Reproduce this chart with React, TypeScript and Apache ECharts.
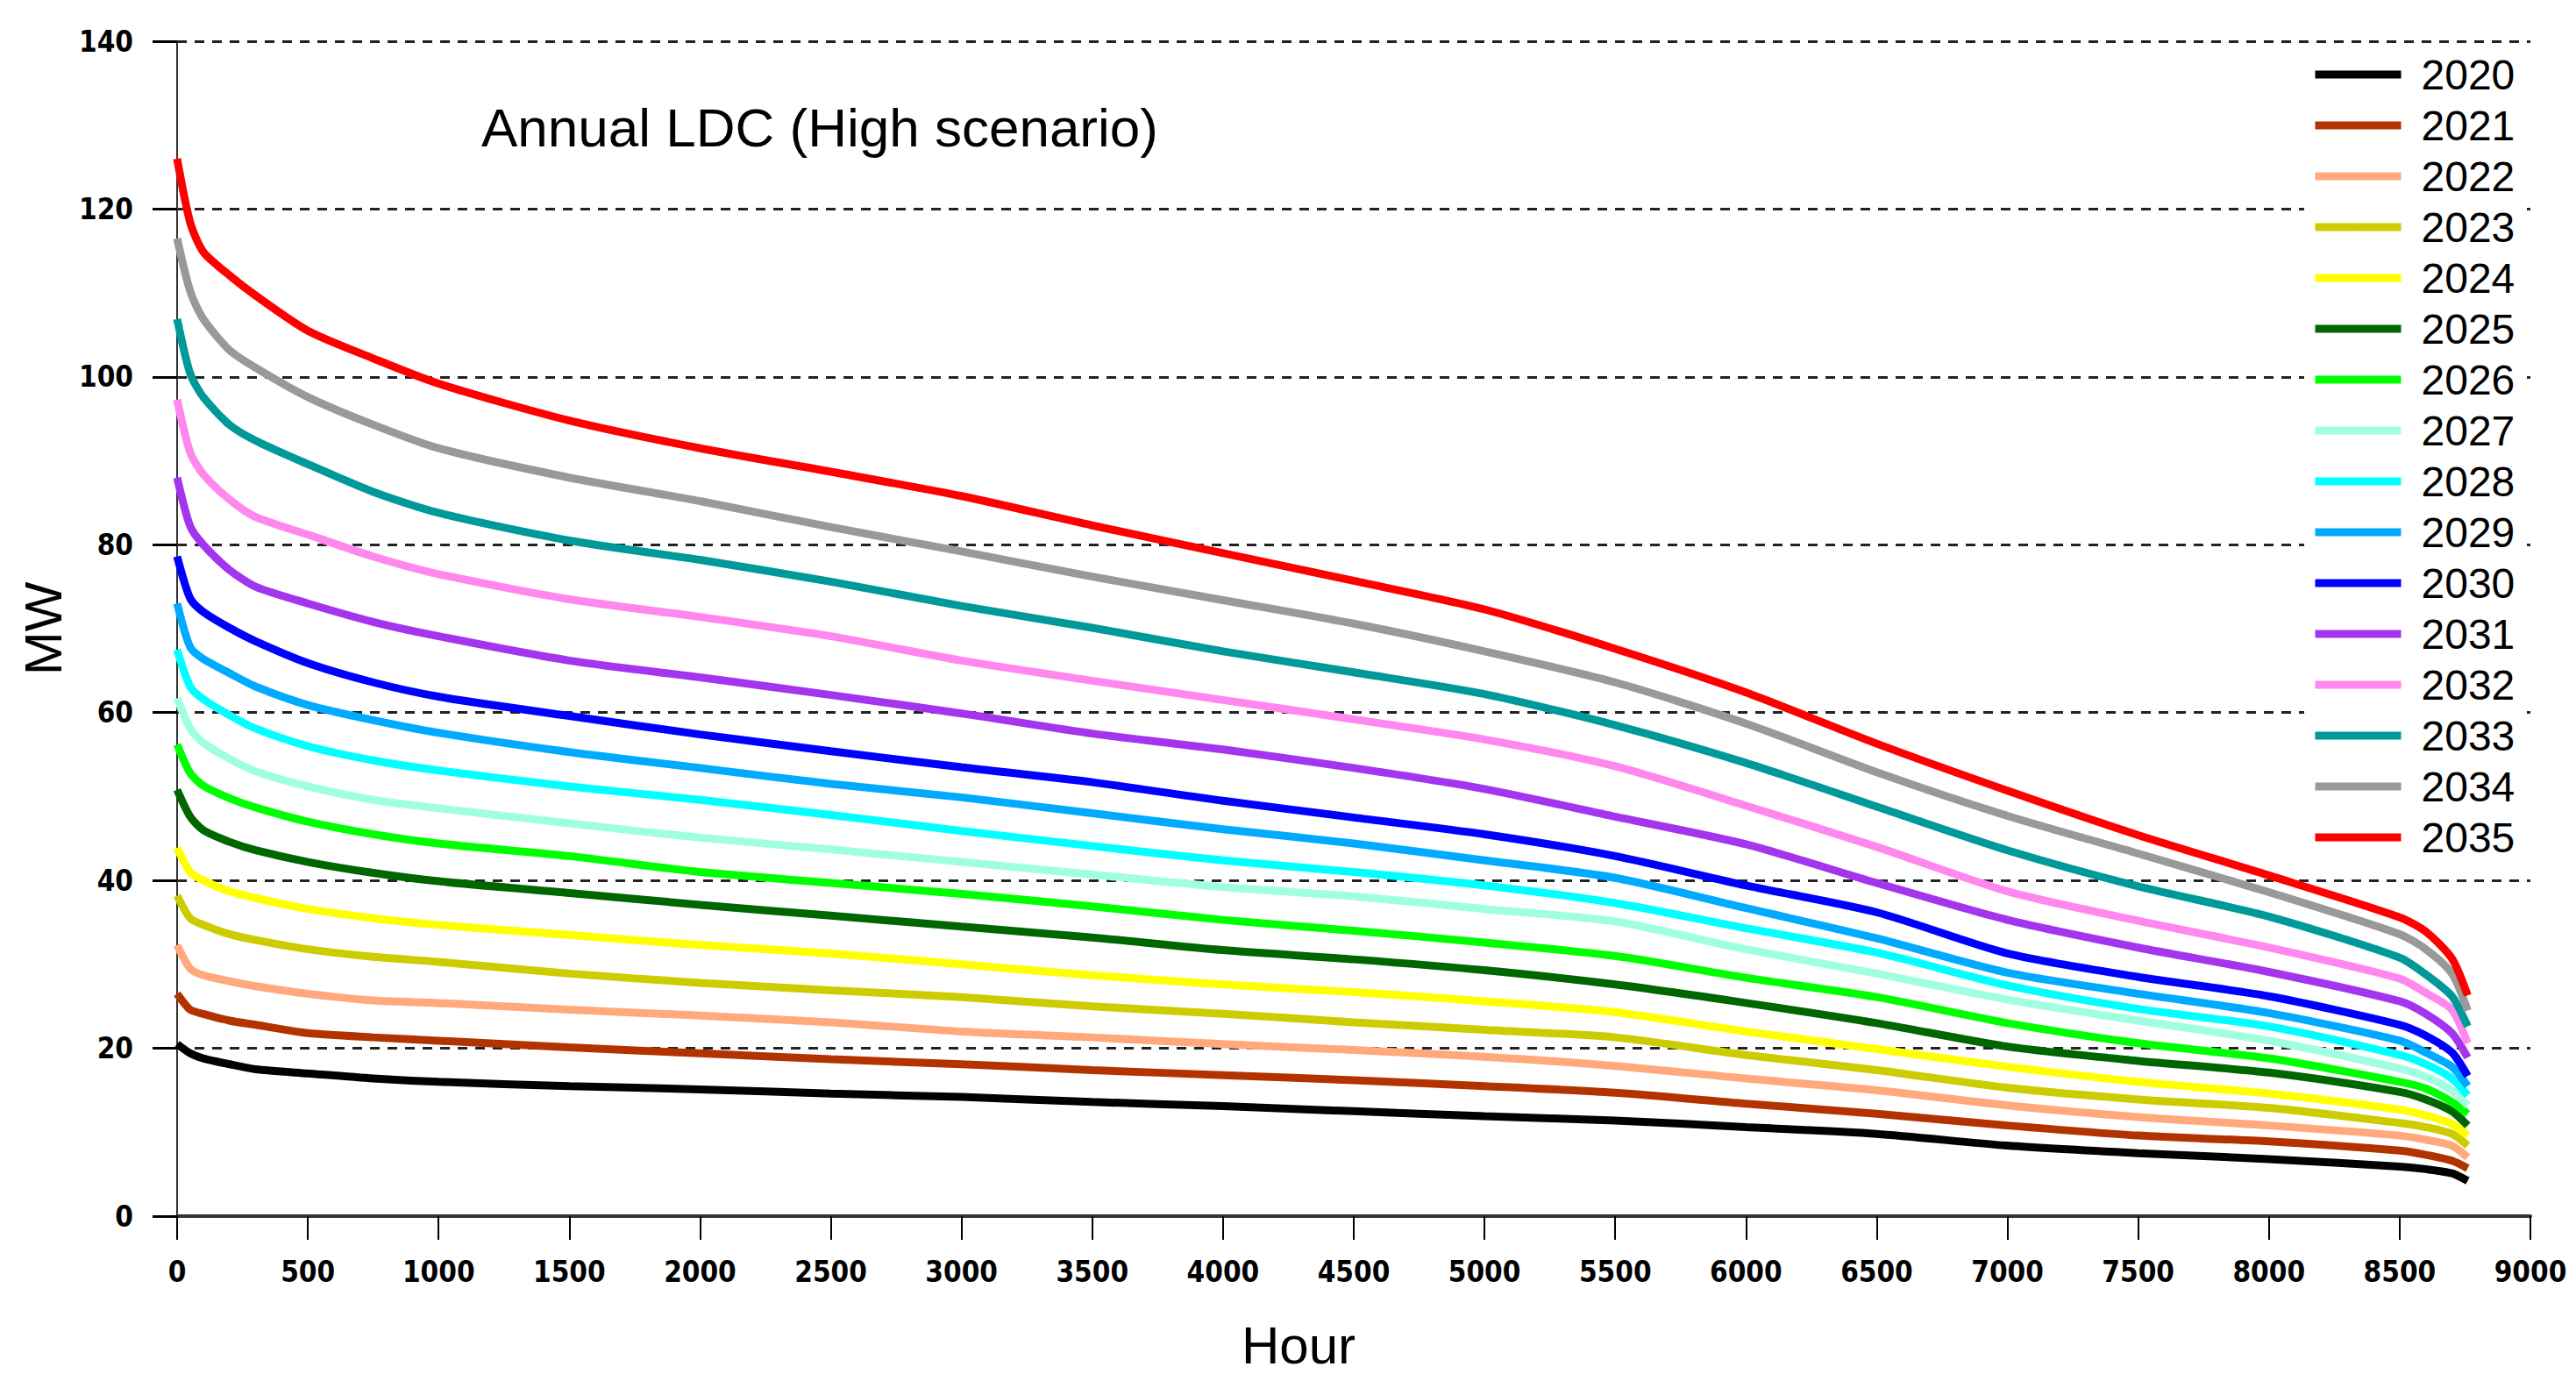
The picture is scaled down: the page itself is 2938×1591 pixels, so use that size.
import React, { useEffect, useRef } from 'react';
import * as echarts from 'echarts';

// hours of the year at which each load duration curve was read
const hours = [0, 50, 100, 200, 300, 500, 750, 1000, 1500, 2000, 2500, 3000, 3500, 4000, 4500, 5000, 5500, 6000, 6500, 7000, 7500, 8000, 8500, 8600, 8700, 8760];

const years = ['2020', '2021', '2022', '2023', '2024', '2025', '2026', '2027', '2028', '2029', '2030', '2031', '2032', '2033', '2034', '2035'];

const ldc2020 = [20.5, 19.4, 18.8, 18.1, 17.5, 17.0, 16.4, 16.0, 15.5, 15.1, 14.6, 14.2, 13.6, 13.1, 12.5, 11.9, 11.4, 10.6, 9.8, 8.4, 7.5, 6.8, 5.9, 5.6, 5.1, 4.2];
const ldc2021 = [26.5, 24.6, 24.1, 23.3, 22.8, 21.8, 21.3, 20.9, 20.1, 19.4, 18.7, 18.1, 17.4, 16.8, 16.2, 15.5, 14.7, 13.4, 12.2, 10.8, 9.6, 8.9, 7.8, 7.3, 6.6, 5.7];
const ldc2022 = [32.3, 29.5, 28.7, 28.0, 27.4, 26.5, 25.7, 25.4, 24.6, 23.9, 23.1, 22.0, 21.3, 20.5, 19.8, 19.0, 17.9, 16.4, 15.0, 13.2, 11.8, 10.8, 9.6, 9.1, 8.4, 7.0];
const ldc2023 = [38.2, 35.5, 34.7, 33.6, 32.9, 31.8, 30.9, 30.3, 28.9, 27.8, 26.9, 26.1, 25.0, 24.1, 23.1, 22.2, 21.3, 19.2, 17.4, 15.3, 13.9, 12.9, 11.1, 10.6, 9.8, 8.4];
const ldc2024 = [43.9, 41.0, 40.0, 38.7, 37.9, 36.6, 35.5, 34.7, 33.5, 32.3, 31.3, 30.0, 28.7, 27.6, 26.7, 25.6, 24.3, 22.0, 19.9, 17.8, 16.0, 14.6, 12.7, 12.0, 11.0, 9.6];
const ldc2025 = [50.8, 47.6, 46.0, 44.6, 43.6, 42.2, 40.9, 39.9, 38.5, 37.1, 35.8, 34.5, 33.2, 31.7, 30.6, 29.3, 27.6, 25.4, 23.0, 20.2, 18.5, 17.1, 14.8, 13.9, 12.5, 10.8];
const ldc2026 = [56.2, 52.8, 51.3, 49.8, 48.7, 47.0, 45.5, 44.4, 42.9, 41.0, 39.7, 38.4, 36.9, 35.3, 34.0, 32.6, 31.0, 28.4, 26.1, 23.0, 20.6, 18.8, 16.0, 15.2, 13.6, 12.2];
const ldc2027 = [61.7, 58.1, 56.4, 54.5, 53.0, 51.2, 49.6, 48.6, 46.8, 45.1, 43.7, 42.2, 40.7, 39.2, 38.1, 36.6, 35.1, 31.8, 28.9, 25.8, 23.3, 20.9, 17.6, 16.6, 15.0, 13.2];
const ldc2028 = [67.5, 63.1, 61.6, 59.7, 58.1, 56.0, 54.3, 53.1, 51.2, 49.6, 47.8, 45.9, 44.1, 42.4, 41.0, 39.4, 37.3, 34.3, 31.4, 27.5, 24.7, 22.6, 19.2, 18.1, 16.4, 14.4];
const ldc2029 = [73.0, 67.8, 66.4, 64.7, 63.1, 60.9, 59.1, 57.6, 55.3, 53.4, 51.5, 49.9, 48.0, 46.1, 44.4, 42.4, 40.3, 36.7, 33.1, 29.0, 26.5, 24.2, 20.9, 19.5, 17.8, 15.5];
const ldc2030 = [78.6, 73.6, 72.0, 70.1, 68.5, 65.9, 63.6, 61.9, 59.6, 57.4, 55.4, 53.5, 51.7, 49.5, 47.5, 45.5, 42.9, 39.4, 36.2, 31.3, 28.5, 26.2, 22.8, 21.5, 19.5, 16.7];
const ldc2031 = [88.0, 82.2, 80.0, 77.0, 75.0, 73.0, 70.8, 69.1, 66.2, 64.2, 62.1, 59.9, 57.5, 55.6, 53.4, 50.9, 47.6, 44.3, 39.7, 35.3, 32.0, 29.1, 25.6, 24.1, 21.8, 18.9];
const ldc2032 = [97.3, 91.0, 88.4, 85.4, 83.3, 81.2, 78.6, 76.5, 73.5, 71.4, 69.1, 66.2, 63.8, 61.5, 59.2, 56.8, 53.6, 48.9, 44.0, 38.7, 35.2, 32.0, 28.3, 26.6, 24.6, 20.6];
const ldc2033 = [106.9, 100.4, 97.6, 94.3, 92.4, 89.6, 86.3, 83.8, 80.5, 78.2, 75.6, 72.7, 70.1, 67.3, 64.8, 62.2, 58.5, 54.0, 48.8, 43.6, 39.3, 35.7, 30.8, 28.8, 26.2, 22.6];
const ldc2034 = [116.5, 110.2, 106.9, 103.2, 101.1, 97.6, 94.3, 91.5, 88.0, 85.2, 82.1, 79.2, 76.2, 73.4, 70.6, 67.3, 63.6, 58.7, 52.9, 47.7, 43.2, 38.6, 33.6, 31.8, 28.9, 24.5];
const ldc2035 = [126.0, 118.4, 114.9, 112.1, 109.7, 105.5, 102.2, 99.2, 94.8, 91.5, 88.7, 85.8, 82.3, 79.0, 75.7, 72.3, 67.6, 62.4, 56.3, 50.7, 45.4, 40.6, 35.6, 33.9, 30.7, 26.3];

const curves = [ldc2020, ldc2021, ldc2022, ldc2023, ldc2024, ldc2025, ldc2026, ldc2027, ldc2028, ldc2029, ldc2030, ldc2031, ldc2032, ldc2033, ldc2034, ldc2035];

const lineColors = ['#000000', '#b33300', '#ffa97c', '#cccc00', '#ffff00', '#006600', '#00ff00', '#a0ffe0', '#00ffff', '#00aaff', '#0000ff', '#a335ee', '#ff88ee', '#009999', '#999999', '#ff0000'];

const narrowFont = '"Liberation Sans Narrow", "Arial Narrow", "DejaVu Sans Condensed", sans-serif';
const plainFont = '"Liberation Sans", Arial, sans-serif';

const App: React.FC = () => {
  const chartRef = useRef<HTMLDivElement | null>(null);

  useEffect(() => {
    document.body.style.margin = '0';
    if (chartRef.current) {
      const myChart = echarts.init(chartRef.current, null, { renderer: 'svg' });

      const option = {
        animation: false,
        backgroundColor: '#fff',
        title: {
          text: 'Annual LDC (High scenario)',
          left: 549,
          top: 114,
          padding: 0,
          textStyle: { fontFamily: plainFont, fontSize: 62, fontWeight: 'normal', color: '#000' },
        },
        legend: {
          orient: 'vertical',
          left: 2628,
          top: 53,
          padding: 8,
          backgroundColor: '#fff',
          itemWidth: 98,
          itemHeight: 9,
          itemGap: 10,
          lineStyle: { width: 9 },
          textStyle: { fontFamily: plainFont, fontSize: 48, lineHeight: 48, color: '#000', padding: [0, 0, 0, 18] },
          data: years,
        },
        grid: { left: 202, right: 52, top: 47, bottom: 204 },
        xAxis: {
          type: 'value',
          min: 0,
          max: 9000,
          interval: 500,
          offset: 9,
          name: 'Hour',
          nameLocation: 'middle',
          nameGap: 108,
          nameTextStyle: { fontFamily: plainFont, fontSize: 60, color: '#000', padding: [0, 126, 0, 0] },
          axisLine: { show: true, lineStyle: { color: '#333', width: 4 } },
          axisTick: { show: true, length: 27, lineStyle: { color: '#000', width: 2 } },
          axisLabel: {
            margin: 38,
            fontFamily: narrowFont,
            fontSize: 33,
            fontWeight: 'bold',
            color: '#000',
            formatter: (v: number) => String(v),
          },
          splitLine: { show: false },
        },
        yAxis: {
          type: 'value',
          min: 0,
          max: 140,
          interval: 20,
          offset: 6,
          name: 'MW',
          nameLocation: 'middle',
          nameGap: 110,
          nameTextStyle: { fontFamily: plainFont, fontSize: 60, color: '#000' },
          axisLine: { show: true, lineStyle: { color: '#333', width: 2 } },
          axisTick: { show: true, length: 28, lineStyle: { color: '#000', width: 3 } },
          axisLabel: {
            margin: 44,
            fontFamily: narrowFont,
            fontSize: 33,
            fontWeight: 'bold',
            color: '#000',
            formatter: (v: number) => String(v),
          },
          splitLine: { show: true, lineStyle: { type: [11, 9], color: '#222', width: 3 } },
        },
        series: years.map((year, i) => ({
          name: year,
          type: 'line',
          data: hours.map((h, j) => [h, curves[i][j]]),
          symbol: 'none',
          smooth: 0.25,
          lineStyle: { width: 9, color: lineColors[i] },
          itemStyle: { color: lineColors[i] },
        })),
      };

      myChart.setOption(option as any);

      return () => {
        myChart.dispose();
      };
    }
  }, []);

  return <div ref={chartRef} style={{ width: '2938px', height: '1591px' }} />;
};

export default App;
